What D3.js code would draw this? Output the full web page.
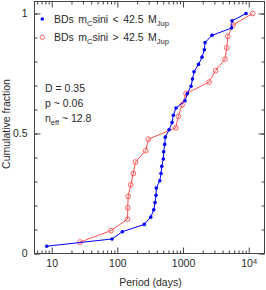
<!DOCTYPE html>
<head>
<script src="https://d3js.org/d3.v7.min.js"></script>
<style>
    body { margin: 0; background: #fff; }
    .chart text { font-family: "Liberation Sans", Arial, sans-serif; fill: #2a2a2a; }
</style>
</head>
<body>
<svg class="chart" width="266" height="290"></svg>
<script>

    // orbital periods (days), sorted
    var bluePeriods = [8.4, 83, 119, 257, 322, 358, 375, 388, 392, 442, 462, 474, 501, 508,
                       526, 537, 612, 680, 711, 782, 1072, 1163, 1325, 1396, 1471, 1722, 1946,
                       2111, 2163, 2765, 5480, 5575, 9110];
    var redPeriods = [27, 80, 143, 144, 146, 160, 175, 188, 270, 296, 774, 848, 966, 1111,
                      2489, 3126, 4363, 4630, 4800, 5780, 11460];

    var xMajorTicks = [10, 100, 1000, 10000];
    var yMajorTicks = [0, 0.5, 1];
    var legendSigns = ["<", ">"];
    var massLimit = "42.5";
    var statLabels = ["D", "p", "n"];
    var statSigns = ["=", "~", "~"];
    var statValues = ["0.35", "0.06", "12.8"];

    var blueCol = "#0000ff",
        redCol = "#ff5050";

    var svg = d3.select(".chart");

    var x = d3.scaleLog()
        .domain([5.47, 17400])
        .range([34.5, 264.5]);

    var y = d3.scaleLinear()
        .domain([0, 1.05])
        .range([253.5, 1.5]);

    var x0 = x.range()[0], x1 = x.range()[1],
        y0 = y.range()[0], y1 = y.range()[1];

    var xMinor = x.ticks().filter(function(d) { return xMajorTicks.indexOf(d) < 0; });
    var yMinor = y.ticks(10).filter(function(d) { return d <= 1; });

    function clean(g) {
        g.select(".domain").remove();
        g.attr("color", "#444");
    }

    // bottom
    svg.append("g").attr("transform", "translate(0," + y0 + ")")
        .call(d3.axisBottom(x).tickValues(xMajorTicks).tickSize(-6).tickSizeOuter(0).tickPadding(6)
            .tickFormat(function(d) { return d === 10000 ? "10" : d3.format("d")(d); }))
        .call(clean)
        .call(function(g) {
            g.selectAll("text").attr("font-size", 10.5).attr("font-family", null);
            g.selectAll("text").filter(function(d) { return d === 10000; })
                .append("tspan").attr("dy", "-0.45em").attr("font-size", 7.5).text("4");
        });
    svg.append("g").attr("transform", "translate(0," + y0 + ")")
        .call(d3.axisBottom(x).tickValues(xMinor).tickSize(-3).tickSizeOuter(0).tickFormat(""))
        .call(clean);

    // top
    svg.append("g").attr("transform", "translate(0," + y1 + ")")
        .call(d3.axisTop(x).tickValues(xMajorTicks).tickSize(-6).tickSizeOuter(0).tickFormat(""))
        .call(clean);
    svg.append("g").attr("transform", "translate(0," + y1 + ")")
        .call(d3.axisTop(x).tickValues(xMinor).tickSize(-3).tickSizeOuter(0).tickFormat(""))
        .call(clean);

    // left
    svg.append("g").attr("transform", "translate(" + x0 + ",0)")
        .call(d3.axisLeft(y).tickValues(yMajorTicks).tickSize(-6).tickSizeOuter(0).tickPadding(7)
            .tickFormat(function(d) { return String(d); }))
        .call(clean)
        .call(function(g) { g.selectAll("text").attr("font-size", 10.5).attr("font-family", null); });
    svg.append("g").attr("transform", "translate(" + x0 + ",0)")
        .call(d3.axisLeft(y).tickValues(yMinor).tickSize(-3).tickSizeOuter(0).tickFormat(""))
        .call(clean);

    // right
    svg.append("g").attr("transform", "translate(" + x1 + ",0)")
        .call(d3.axisRight(y).tickValues(yMajorTicks).tickSize(-6).tickSizeOuter(0).tickFormat(""))
        .call(clean);
    svg.append("g").attr("transform", "translate(" + x1 + ",0)")
        .call(d3.axisRight(y).tickValues(yMinor).tickSize(-3).tickSizeOuter(0).tickFormat(""))
        .call(clean);

    svg.append("rect")
        .attr("x", x0).attr("y", y1)
        .attr("width", x1 - x0).attr("height", y0 - y1)
        .attr("fill", "none").attr("stroke", "#444");

    // cumulative curves
    function cdf(periods) {
        return periods.map(function(p, i) { return { p: p, f: (i + 1) / periods.length }; });
    }
    var blue = cdf(bluePeriods),
        red = cdf(redPeriods);

    var line = d3.line()
        .x(function(d) { return x(d.p); })
        .y(function(d) { return y(d.f); });

    svg.append("path").datum(red)
        .attr("d", line).attr("fill", "none").attr("stroke", redCol).attr("stroke-width", 1);
    svg.selectAll(".rdot").data(red).enter().append("circle")
        .attr("cx", function(d) { return x(d.p); })
        .attr("cy", function(d) { return y(d.f); })
        .attr("r", 2.4).attr("fill", "none").attr("stroke", redCol).attr("stroke-width", 0.9);

    svg.append("path").datum(blue)
        .attr("d", line).attr("fill", "none").attr("stroke", blueCol).attr("stroke-width", 1);
    svg.selectAll(".bdot").data(blue).enter().append("circle")
        .attr("cx", function(d) { return x(d.p); })
        .attr("cy", function(d) { return y(d.f); })
        .attr("r", 1.8).attr("fill", blueCol);

    // legend
    var leg = svg.append("g").attr("font-size", 10.5).attr("word-spacing", 1.5);
    legendSigns.forEach(function(s, i) {
        var yy = 19 + i * 18.3;
        if (i === 0) {
            leg.append("circle").attr("cx", 42.3).attr("cy", yy).attr("r", 1.8).attr("fill", blueCol);
        } else {
            leg.append("circle").attr("cx", 42.3).attr("cy", yy).attr("r", 2.2)
                .attr("fill", "none").attr("stroke", redCol).attr("stroke-width", 0.9);
        }
        var t = leg.append("text").attr("x", 54).attr("y", yy + 4);
        t.append("tspan").text("BDs m");
        t.append("tspan").attr("font-size", 7.5).attr("dy", 3).text("C");
        t.append("tspan").attr("dy", -3).text("sini " + s + " " + massLimit + " M");
        t.append("tspan").attr("font-size", 7.5).attr("dy", 3).text("Jup");
    });

    // stats
    var st = svg.append("g").attr("font-size", 10.5);
    statLabels.forEach(function(l, i) {
        var t = st.append("text").attr("x", 45).attr("y", 92 + i * 14.9);
        t.append("tspan").text(l);
        if (l === "n") {
            t.append("tspan").attr("font-size", 7.5).attr("dy", 3).text("eff");
            t.append("tspan").attr("dy", -3).text(" " + statSigns[i] + " " + statValues[i]);
        } else {
            t.append("tspan").text(" " + statSigns[i] + " " + statValues[i]);
        }
    });

    // axis titles
    svg.append("text")
        .attr("x", 150.5).attr("y", 285.5)
        .attr("text-anchor", "middle").attr("font-size", 10.5)
        .text("Period (days)");
    svg.append("text")
        .attr("transform", "translate(9.5,124) rotate(-90)")
        .attr("text-anchor", "middle").attr("font-size", 10.5)
        .text("Cumulative fraction");

</script>
</body>
